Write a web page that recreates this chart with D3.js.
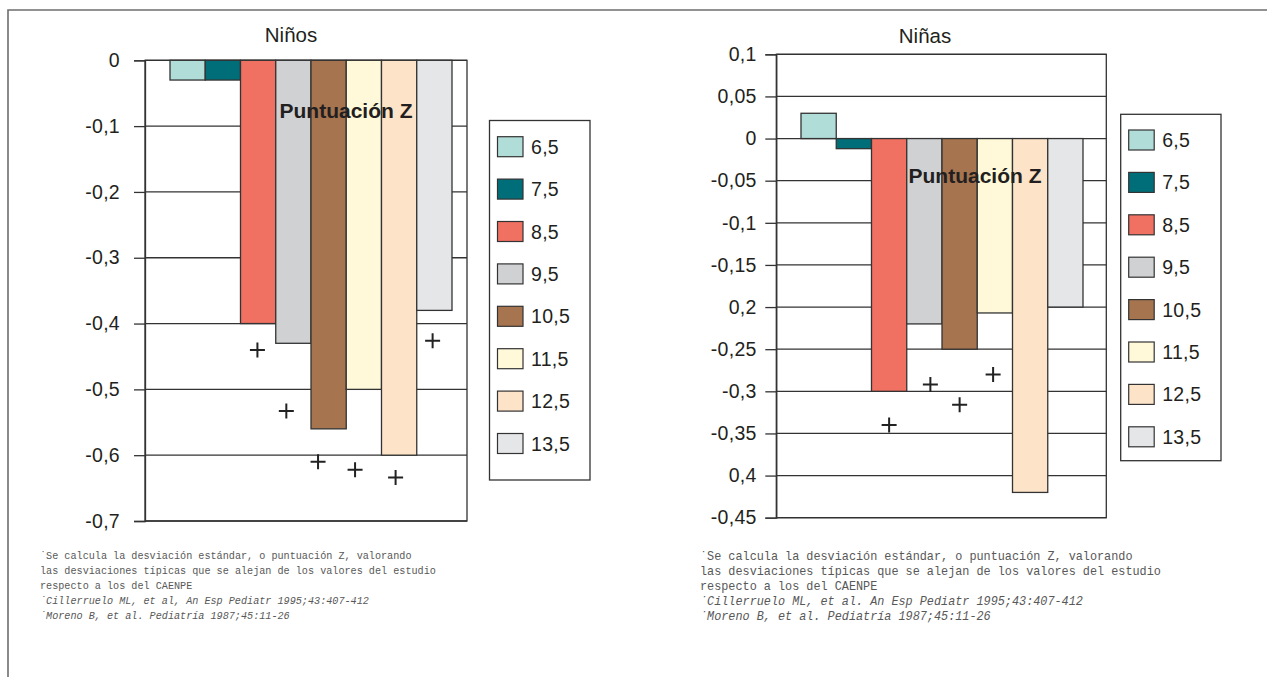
<!DOCTYPE html>
<html><head><meta charset="utf-8">
<script src="https://cdn.jsdelivr.net/npm/d3@7"></script>
<style>
html,body{margin:0;padding:0;background:#fff;}
svg{display:block;}
</style></head>
<body>
<svg id="c" width="1267" height="677"></svg>
<script>
// ---- data ----
const ages = ["6,5","7,5","8,5","9,5","10,5","11,5","12,5","13,5"];
const ageNum = [6.5,7.5,8.5,9.5,10.5,11.5,12.5,13.5];
const colors = ["#b1ddd8","#006e79","#f07062","#d0d1d3","#a6744f","#fff8d9","#fde3c8","#e5e6e8"];

const ninosValues = [-0.03,-0.03,-0.40,-0.43,-0.56,-0.50,-0.60,-0.38];
const ninosRefAge = [8.48,9.3,10.2,11.25,12.4,13.45];
const ninosRefValue = [-0.44,-0.533,-0.61,-0.622,-0.634,-0.426];
const ninosTicks = [0,-0.1,-0.2,-0.3,-0.4,-0.5,-0.6,-0.7];
const ninosTickLabels = ["0","-0,1","-0,2","-0,3","-0,4","-0,5","-0,6","-0,7"];

const ninasValues = [0.03,-0.012,-0.30,-0.22,-0.25,-0.207,-0.42,-0.20];
const ninasRefAge = [8.5,9.67,10.5,11.45];
const ninasRefValue = [-0.34,-0.292,-0.316,-0.28];
const ninasTicks = [0.1,0.05,0,-0.05,-0.1,-0.15,-0.2,-0.25,-0.3,-0.35,-0.4,-0.45];
const ninasTickLabels = ["0,1","0,05","0","-0,05","-0,1","-0,15","0,2","-0,25","-0,3","-0,35","0,4","-0,45"];

const noteLines = ["\u02D9Se calcula la desviación estándar, o puntuación Z, valorando",
  "las desviaciones típicas que se alejan de los valores del estudio",
  "respecto a los del CAENPE"];
const refsNinos = ["\u02D9Cillerruelo ML, et al, An Esp Pediatr 1995;43:407-412",
  "\u02D9Moreno B, et al. Pediatría 1987;45:11-26"];
const refsNinas = ["\u02D9Cillerruelo ML, et al. An Esp Pediatr 1995;43:407-412",
  "\u02D9Moreno B, et al. Pediatría 1987;45:11-26"];

const svg = d3.select("#c");
const FONT = "'Liberation Sans', Arial, sans-serif";
const INK = "#231f20";

// outer frame (top and left lines)
svg.append("path").attr("d","M8,677 V10 H1267").attr("fill","none")
  .attr("stroke","#6d6d6d").attr("stroke-width",1.6);

function drawChart(o){
  const g = svg.append("g");
  const y = d3.scaleLinear().domain(o.yDomain).range(o.yRange);
  const x = d3.scaleBand().domain(ages).range(o.barRange).padding(0);
  const bw = x.bandwidth();
  const xm = d3.scaleLinear().domain([ageNum[0], ageNum[ageNum.length-1]])
    .range([x(ages[0])+bw/2, x(ages[ages.length-1])+bw/2]);

  // gridlines
  g.selectAll("line.grid").data(o.ticks).join("line")
    .attr("x1",o.plotX[0]).attr("x2",o.plotX[1])
    .attr("y1",d=>y(d)).attr("y2",d=>y(d))
    .attr("stroke","#333").attr("stroke-width",1.3);
  // frame
  g.append("rect").attr("x",o.plotX[0]).attr("y",y(o.yDomain[0]))
    .attr("width",o.plotX[1]-o.plotX[0]).attr("height",y(o.yDomain[1])-y(o.yDomain[0]))
    .attr("fill","none").attr("stroke","#333").attr("stroke-width",1.3);

  // y axis with custom labels
  const ax = d3.axisLeft(y).tickValues(o.ticks).tickSize(11).tickPadding(o.tickPad)
    .tickFormat((d,i)=>o.tickLabels[i]);
  const axg = g.append("g").attr("transform",`translate(${o.plotX[0]},0)`).call(ax);
  axg.select(".domain").attr("stroke","#333").attr("stroke-width",1.3);
  axg.selectAll(".tick line").attr("stroke","#333").attr("stroke-width",1.3);
  axg.selectAll(".tick text").attr("font-family",FONT).attr("font-size",19.5)
    .attr("letter-spacing",0.3).attr("fill",INK);

  // bars
  g.selectAll("rect.bar").data(o.values).join("rect")
    .attr("x",(d,i)=>x(ages[i])).attr("width",bw)
    .attr("y",d=>Math.min(y(d),y(0))).attr("height",d=>Math.abs(y(d)-y(0)))
    .attr("fill",(d,i)=>colors[i]).attr("stroke","#333").attr("stroke-width",1.3);

  // reference markers (+)
  const s = 7.5;
  g.selectAll("path.plus").data(o.refAge).join("path")
    .attr("d",(d,i)=>{const cx=xm(d), cy=y(o.refValue[i]);
      return `M${cx-s},${cy}H${cx+s}M${cx},${cy-s}V${cy+s}`;})
    .attr("stroke","#222").attr("stroke-width",2).attr("fill","none");

  // title
  g.append("text").attr("x",o.titleX).attr("y",o.titleY).attr("text-anchor","middle")
    .attr("font-family",FONT).attr("font-size",20.5).attr("fill",INK).text(o.title);
  // label
  g.append("text").attr("x",o.labelX).attr("y",o.labelY).attr("text-anchor","middle")
    .attr("font-family",FONT).attr("font-size",21).attr("font-weight","bold")
    .attr("fill",INK).text("Puntuación Z");

  // legend
  const L = o.legend;
  g.append("rect").attr("x",L.x).attr("y",L.y).attr("width",L.w).attr("height",L.h)
    .attr("fill","#fff").attr("stroke","#333").attr("stroke-width",1.3);
  const items = g.selectAll("g.li").data(ages).join("g")
    .attr("transform",(d,i)=>`translate(${L.x+8},${L.first+i*L.step})`);
  items.append("rect").attr("x",0).attr("y",-10).attr("width",25.5).attr("height",20)
    .attr("fill",(d,i)=>colors[i]).attr("stroke","#333").attr("stroke-width",1.2);
  items.append("text").attr("x",33.5).attr("y",7).attr("font-family",FONT)
    .attr("font-size",19.5).attr("letter-spacing",0.3).attr("fill",INK).text(d=>d);

  // footnotes
  const F = o.foot;
  const lines = noteLines.map(t=>({t,it:false})).concat(o.refs.map(t=>({t,it:true})));
  g.selectAll("text.fn").data(lines).join("text")
    .attr("x",F.x).attr("y",(d,i)=>F.y+i*F.step)
    .attr("font-family","'Liberation Mono', 'DejaVu Sans Mono', monospace")
    .attr("font-size",F.size).attr("font-style",d=>d.it?"italic":"normal")
    .attr("textLength",d=>d.t.length*F.adv).attr("lengthAdjust","spacingAndGlyphs")
    .attr("fill","#585858").text(d=>d.t);
}

drawChart({
  values: ninosValues, refAge: ninosRefAge, refValue: ninosRefValue,
  ticks: ninosTicks, tickLabels: ninosTickLabels, tickPad: 14,
  yDomain:[0,-0.7], yRange:[60.3,521], plotX:[145,467], barRange:[170,452],
  title:"Niños", titleX:291, titleY:42, labelX:346, labelY:118,
  legend:{x:489.5,y:120.5,w:100.5,h:359.5,first:146.7,step:42.4},
  foot:{x:40,y:558.5,step:15.2,size:11.8,adv:6.09}, refs: refsNinos
});
drawChart({
  values: ninasValues, refAge: ninasRefAge, refValue: ninasRefValue,
  ticks: ninasTicks, tickLabels: ninasTickLabels, tickPad: 8.6,
  yDomain:[0.1,-0.45], yRange:[54.3,517.7], plotX:[776.3,1106.3], barRange:[801,1083],
  title:"Niñas", titleX:925, titleY:42.5, labelX:975, labelY:183,
  legend:{x:1120.7,y:114.3,w:100.3,h:346.4,first:140,step:42.4},
  foot:{x:700,y:560,step:15,size:13,adv:7.09}, refs: refsNinas
});
</script>
</body></html>
